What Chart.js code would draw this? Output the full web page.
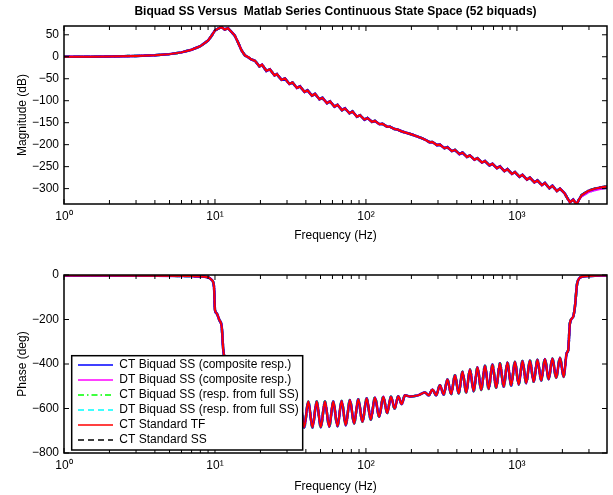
<!DOCTYPE html>
<html>
<head>
<meta charset="utf-8">
<script src="https://cdn.jsdelivr.net/npm/chart.js@4.4.1/dist/chart.umd.min.js"></script>
<style>
    html, body { margin: 0; padding: 0; background: #fff; }
    #wrap { position: relative; width: 613px; height: 495px; }
    canvas { position: absolute; left: 0; }
    #mag-chart { top: 0; }
    #phase-chart { top: 250px; }
</style>
</head>
<body>
<div id="wrap">
    <canvas id="mag-chart" width="613" height="250"></canvas>
    <canvas id="phase-chart" width="613" height="245"></canvas>
</div>
<script>
const titleText = 'Biquad SS Versus  Matlab Series Continuous State Space (52 biquads)';

const seriesNames = [
    'CT Biquad SS (composite resp.)',
    'DT Biquad SS (composite resp.)',
    'CT Biquad SS (resp. from full SS)',
    'DT Biquad SS (resp. from full SS)',
    'CT Standard TF',
    'CT Standard SS'
];
const seriesColors = ['#0000ff', '#ff00ff', '#00ff00', '#00ffff', '#ff0000', '#000000'];
const seriesDash = [[], [], [6, 3, 1.5, 3], [6, 4], [], [6, 4]];

const xTickVals = [1, 10, 100, 1000];
const xTickLabels = ['10\u2070', '10\u00b9', '10\u00b2', '10\u00b3'];
const magTicks = [-300, -250, -200, -150, -100, -50, 0, 50];
const phaseTicks = [-800, -600, -400, -200, 0];

// magnitude (dB) vs frequency (Hz)
const magFreq = [1, 1.5, 2, 3, 4, 5, 6, 7, 8, 9, 9.5, 10, 10.5, 11.05, 11.6, 12.2, 12.9, 13.5, 14.2, 15.0,
    15.8, 16.6, 17.4, 18.4, 19.7, 20.5, 21.9, 23.1, 24.8, 25.7, 27.6, 29.1, 31.1, 32.6, 34.9, 36.6,
    39.2, 41.0, 43.9, 46.0, 49.2, 51.5, 55.2, 57.8, 61.9, 64.8, 69.4, 72.6, 77.8, 81.4, 87.2, 91.3,
    97.8, 102.3, 109.6, 114.7, 122.9, 128.6, 137.8, 144.2, 154.4, 161.7, 173.2, 201.7, 233.8,
    245.9, 263.4, 275.7, 295.3, 309.1, 331.1, 346.5, 371.2, 388.6, 416.1, 435.7, 466.7, 488.3,
    523.1, 547.6, 586.4, 614.0, 657.6, 688.3, 737.3, 771.7, 826.5, 865.2, 926.7, 970.1, 1039,
    1088, 1165, 1219, 1306, 1367, 1464, 1532, 1641, 1718, 1840, 1927, 2064, 2144, 2244, 2359,
    2485, 2574, 2683, 2967, 3286, 3638, 3950];
const magDb = [0, 0.3, 0.8, 2, 3.5, 6, 10, 16, 24, 37, 48, 60, 64, 67.5, 62, 65, 56, 48.6, 33, 14.5,
    3, -1, -6, -9, -22, -18, -32, -28.5, -42.5, -39.5, -52.5, -49.5, -62, -58.5, -71, -67.5,
    -80, -76.5, -88.5, -84.5, -96.5, -93.5, -105.5, -101.5, -113.5, -109.5, -121.5, -117.5, -128.5, -124.5, -136.5, -133,
    -143, -139.5, -148, -146, -153.5, -152.5, -159, -159, -164.5, -165.5, -170, -177, -185,
    -188.3, -194.3, -194.1, -201, -200, -208, -205.9, -214.7, -211.8, -221.6, -218.1, -228, -224.5,
    -234.3, -230.9, -240.7, -237.3, -247.1, -243.6, -253.5, -249.5, -260.3, -255.9, -266.7, -262.3, -273.1,
    -268.6, -279.5, -275, -285.8, -281.4, -292.2, -287.3, -299.1, -293.6, -305.5, -300, -310, -320, -331, -325,
    -336, -325, -315, -305, -300, -297, -295];
// discrete-time versions sit a little lower near Nyquist
const dtMagTail = [-317, -308, -303, -300, -298];

// phase (deg) vs frequency (Hz)
const phaseFreq = [1, 4, 7, 8.81, 9.51, 9.85, 10.0, 10.26, 10.68, 11.08, 11.35, 11.65, 12.2, 12.96, 14.0,
    15.3, 17.1, 19.3, 22.0, 24.97, 26.6, 28.3, 30.2, 32.2, 34.3, 36.6,
    38.97, 41.5, 44.2, 47.2, 50.2, 53.5, 57.1, 60.7, 64.8, 69.0, 73.5, 78.3, 83.5, 88.9, 94.8,
    101.1, 107.6, 114.7, 122.3, 130.2, 138.2, 146.4, 154.9, 163.6, 172.4, 181.3, 195.6, 221.0,
    245.9, 260.4, 275.7, 291.9, 309.1, 327.3, 346.5, 366.9, 388.6, 411.5, 435.7, 461.4, 488.3, 517.1,
    547.6, 579.9, 614.0, 650.2, 688.3, 728.8, 771.7, 817.2, 865.2, 916.2, 970.1, 1027, 1088, 1152,
    1219, 1291, 1367, 1448, 1532, 1622, 1718, 1819, 1927, 2041, 2134, 2186, 2244, 2359, 2422,
    2508, 2683, 3043, 3950];
const phaseDeg = [-2, -3, -5, -9, -22, -52, -157, -172, -202, -232, -337, -382, -470, -540, -580,
    -610, -680, -575, -690, -570, -690, -570, -690, -570, -688, -569,
    -685, -569, -685, -569, -684, -569, -682, -569, -680, -566, -675, -562, -667, -558, -660,
    -554, -650, -550, -637, -547, -620, -547, -600, -545, -580, -540, -546, -541,
    -528, -541, -515, -540, -495, -537, -470, -535, -450, -532, -435, -528, -425, -522,
    -415, -517, -408, -512, -402, -507, -397, -502, -393, -497, -390, -492, -387, -486,
    -384, -480, -381, -474, -378, -468, -375, -462, -372, -458, -352, -337, -217, -187, -142,
    -37, -8, -4, -2];

const font = '"Liberation Sans", Arial, Helvetica, sans-serif';

function toPoints(freq, vals) {
    return freq.map((f, i) => ({x: f, y: vals[i]}));
}

function makeSets(freq, ctVals, dtVals, smooth) {
    return seriesNames.map((name, i) => ({
        label: name,
        data: toPoints(freq, name.startsWith('DT') ? dtVals : ctVals),
        borderColor: seriesColors[i],
        borderDash: seriesDash[i],
        borderWidth: name === 'CT Standard TF' ? 2 : 2.5,
        pointRadius: 0,
        fill: false,
        tension: 0,
        cubicInterpolationMode: smooth ? 'monotone' : 'default',
        order: name === 'CT Standard TF' ? 0 : 1
    }));
}

// MATLAB style box with inward ticks on all four sides
const axesBox = {
    id: 'axesBox',
    afterDatasetsDraw(chart) {
        const {ctx, chartArea: a, scales: {x, y}} = chart;
        const seg = (x1, y1, x2, y2) => { ctx.beginPath(); ctx.moveTo(x1, y1); ctx.lineTo(x2, y2); ctx.stroke(); };
        ctx.save();
        ctx.strokeStyle = '#000';
        ctx.lineWidth = 1;
        for (let k = 0; k < 4; k++) {
            for (let d = 1; d <= 9; d++) {
                const v = d * Math.pow(10, k);
                if (v < x.min || v > x.max) continue;
                const px = x.getPixelForValue(v);
                const len = d === 1 ? 5 : 4;
                seg(px, a.bottom, px, a.bottom - len);
                seg(px, a.top, px, a.top + len);
            }
        }
        y.ticks.forEach(t => {
            const py = y.getPixelForValue(t.value);
            seg(a.left, py, a.left + 5, py);
            seg(a.right, py, a.right - 5, py);
        });
        ctx.lineWidth = 1.5;
        ctx.strokeRect(a.left, a.top, a.right - a.left, a.bottom - a.top);
        ctx.restore();
    }
};

const topTitle = {
    id: 'topTitle',
    afterDraw(chart) {
        const {ctx, chartArea: a} = chart;
        ctx.save();
        ctx.font = 'bold 12px ' + font;
        ctx.fillStyle = '#000';
        ctx.textAlign = 'center';
        ctx.textBaseline = 'middle';
        ctx.fillText(titleText, (a.left + a.right) / 2, 12);
        ctx.restore();
    }
};

const boxLegend = {
    id: 'boxLegend',
    afterDraw(chart) {
        const {ctx, chartArea: a} = chart;
        const sets = chart.data.datasets;
        ctx.save();
        ctx.font = '12px ' + font;
        const textW = Math.max(...sets.map(d => ctx.measureText(d.label).width));
        const left = a.left + 7.7;
        const w = 47.6 + textW + 4;
        const h = 15 * sets.length + 4.3;
        const top = a.bottom - 3 - h;
        ctx.fillStyle = '#fff';
        ctx.fillRect(left, top, w, h);
        ctx.strokeStyle = '#000';
        ctx.lineWidth = 1.5;
        ctx.strokeRect(left, top, w, h);
        sets.forEach((d, i) => {
            const cy = top + 9.3 + 15 * i;
            ctx.strokeStyle = d.borderColor;
            ctx.lineWidth = 1.5;
            ctx.setLineDash(d.borderDash);
            ctx.beginPath();
            ctx.moveTo(left + 6.3, cy);
            ctx.lineTo(left + 41.3, cy);
            ctx.stroke();
            ctx.setLineDash([]);
            ctx.fillStyle = '#000';
            ctx.textAlign = 'left';
            ctx.textBaseline = 'middle';
            ctx.fillText(d.label, left + 47.6, cy);
        });
        ctx.restore();
    }
};

function makeConfig(sets, yMin, yMax, yTicks, yTitle, padTop, xHeight, xTitlePad, extra) {
    return {
        type: 'line',
        data: {datasets: sets},
        options: {
            responsive: false,
            animation: false,
            devicePixelRatio: 1,
            layout: {padding: {top: padTop, right: 6, left: 0, bottom: 0}},
            plugins: {legend: {display: false}, tooltip: {enabled: false}},
            scales: {
                x: {
                    type: 'logarithmic',
                    min: 1,
                    max: 3950,
                    afterBuildTicks: axis => { axis.ticks = xTickVals.map(v => ({value: v})); },
                    afterFit: axis => { axis.height = xHeight; },
                    grid: {display: false, drawTicks: false},
                    border: {display: false},
                    ticks: {
                        autoSkip: false,
                        maxRotation: 0,
                        padding: 5,
                        color: '#000',
                        font: {family: font, size: 12},
                        callback: v => xTickLabels[xTickVals.indexOf(v)]
                    },
                    title: {display: true, text: 'Frequency (Hz)', color: '#000',
                        font: {family: font, size: 12}, padding: {top: 0, bottom: xTitlePad}}
                },
                y: {
                    min: yMin,
                    max: yMax,
                    afterBuildTicks: axis => { axis.ticks = yTicks.map(v => ({value: v})); },
                    afterFit: axis => { axis.width = 64; },
                    grid: {display: false, drawTicks: false},
                    border: {display: false},
                    ticks: {
                        padding: 5,
                        color: '#000',
                        font: {family: font, size: 12},
                        callback: v => String(v).replace('-', '\u2212')
                    },
                    title: {display: true, text: yTitle, color: '#000',
                        font: {family: font, size: 12}, padding: {top: 15, bottom: 0}}
                }
            }
        },
        plugins: [axesBox].concat(extra)
    };
}

const magSets = makeSets(magFreq, magDb,
    magDb.slice(0, magDb.length - dtMagTail.length).concat(dtMagTail), false);
const phaseSets = makeSets(phaseFreq, phaseDeg, phaseDeg, true);

new Chart(document.getElementById('mag-chart'),
    makeConfig(magSets, -335, 70, magTicks, 'Magnitude (dB)', 26, 46, 7, [topTitle]));
new Chart(document.getElementById('phase-chart'),
    makeConfig(phaseSets, -800, 0, phaseTicks, 'Phase (deg)', 25, 42, 1, [boxLegend]));
</script>
</body>
</html>
